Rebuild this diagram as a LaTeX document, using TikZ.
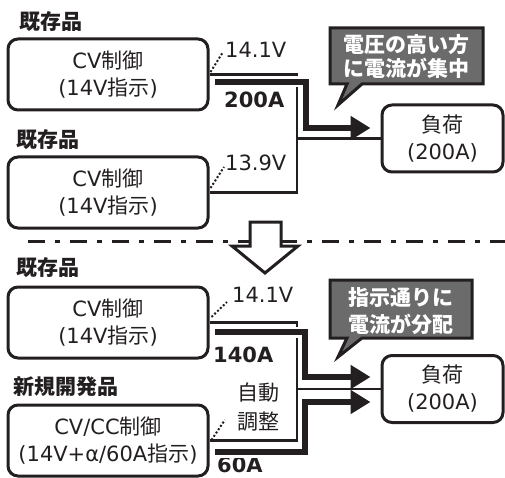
\documentclass[tikz,border=0pt]{standalone}
\usepackage{fontspec}
\setmainfont{DejaVu Sans}
\newfontfamily\jp{Noto Sans CJK JP}
\usetikzlibrary{arrows.meta}
\newcommand\J[1]{{\jp #1}}
\definecolor{callgray}{HTML}{6B6B6B}
\definecolor{ink}{HTML}{231F20}
\begin{document}
\begin{tikzpicture}[x=1pt,y=-1pt,
  box/.style={draw=ink, line width=3pt, rounded corners=10pt, minimum width=200pt, minimum height=71pt, inner sep=0pt, align=center, font=\fontsize{21}{27}\selectfont, text=ink},
  loadbox/.style={box, minimum width=121pt, minimum height=67pt},
  lbl/.style={font=\fontsize{21}{25}\selectfont, text=ink, inner sep=0pt},
  blbl/.style={font=\fontsize{21}{25}\selectfont\bfseries, text=ink, inner sep=0pt},
  wire/.style={draw=ink, line width=2.5pt},
  flow/.style={draw=ink, line width=6.5pt, -{Triangle[length=20pt,width=23pt]}},
  halo/.style={draw=white, line width=11pt},
  dots/.style={draw=ink, line width=2pt, dash pattern=on 2pt off 2pt},
  callout/.style={draw=ink, fill=callgray, line width=3pt, line join=miter},
  ctext/.style={text=white, inner sep=0pt, align=center}
]
\useasboundingbox (0,0) rectangle (505,478);

% ---------- top half ----------
\node[blbl, anchor=west] (h1) at (19,22) {\J{既存品}};
\node[box] (box1) at (108,74.5) {CV\J{制御}\\(14V\J{指示})};
\node[blbl, anchor=west] (h2) at (16,140) {\J{既存品}};
\node[box] (box2) at (108,192.5) {CV\J{制御}\\(14V\J{指示})};
\node[loadbox] (load1) at (442.5,138.5) {\J{負荷}\\(200A)};

\node[lbl, anchor=west] (v1) at (225,50) {14.1V};
\node[lbl, anchor=west] (v2) at (225,163) {13.9V};
\node[blbl, anchor=west] (a1) at (224,100) {200A};

\draw[dots] ([xshift=1pt,yshift=2.5pt]box1.east) -- ([xshift=-2pt,yshift=-2pt]v1.west);
\draw[dots] ([xshift=1pt,yshift=4.5pt]box2.east) -- ([xshift=-1pt,yshift=-4pt]v2.west);

\coordinate (busT) at (297,138.5);
\draw[wire] (box1.east) -| (busT) |- (box2.east);
\draw[wire] (busT) -- (load1.west);

\coordinate (fA) at ([xshift=5pt,yshift=-7.5pt]box1.east);
\coordinate (fK) at (306,105);
\coordinate (fB) at ([xshift=-10pt,yshift=10.5pt]load1.west);
\draw[halo, shorten >=25pt] (fA) -| (fK) |- (fB);
\draw[flow] (fA) -| (fK) |- (fB);

\draw[callout] (330,28) -- (483,28) -- (483,84) -- (362,84) -- (338,105) -- (347,84) -- (330,84) -- cycle;
\node[ctext, font=\fontsize{21}{24}\selectfont\bfseries] (c1) at (406.5,56.5) {\J{電圧の高い方}\\\J{に電流が集中}};

% ---------- separator ----------
\draw[ink, line width=3pt, dash pattern=on 17pt off 10pt on 5pt off 10pt] (28,241) -- (505,241);
\draw[ink, line width=3pt, fill=white, line join=miter]
  (250,222) -- (250,246) -- (232,246) -- (265,273) -- (298,246) -- (281,246) -- (281,222) -- cycle;

% ---------- bottom half ----------
\node[blbl, anchor=west] (h3) at (16,268) {\J{既存品}};
\node[box] (box3) at (108,322.5) {CV\J{制御}\\(14V\J{指示})};
\node[blbl, anchor=west] (h4) at (13,387) {\J{新規開発品}};
\node[box] (box4) at (108,440.5) {CV/CC\J{制御}\\(14V+α/60A\J{指示})};
\node[loadbox] (load2) at (442.5,389) {\J{負荷}\\(200A)};

\node[lbl, anchor=west] (v3) at (232,295) {14.1V};
\node[blbl, anchor=west] (a2) at (213,355) {140A};
\node[lbl, align=center, font=\fontsize{21}{29}\selectfont] (auto) at (258,407.5) {\J{自動}\\\J{調整}};
\node[blbl, anchor=west] (a3) at (217,465) {60A};

\draw[dots] ([xshift=2pt,yshift=5.5pt]box3.east) -- ([xshift=-5pt,yshift=-7pt]v3.west);
\draw[dots] ([xshift=2pt,yshift=0.5pt]box4.east) -- ([xshift=-12pt,yshift=-12.5pt]auto.west);

\coordinate (busB) at (297,389);
\draw[wire] (box3.east) -| (busB) |- (box4.east);
\draw[wire] (busB) -- (load2.west);

\coordinate (gA) at ([xshift=5pt,yshift=-9.5pt]box3.east);
\coordinate (gK) at (305,355);
\coordinate (gB) at ([xshift=-10pt,yshift=12pt]load2.west);
\draw[halo, shorten >=25pt] (gA) -| (gK) |- (gB);
\draw[flow] (gA) -| (gK) |- (gB);

\coordinate (hA) at ([xshift=5pt,yshift=-11.5pt]box4.east);
\coordinate (hK) at (305,427);
\coordinate (hB) at ([xshift=-10pt,yshift=-13pt]load2.west);
\draw[halo, shorten >=25pt] (hA) -| (hK) |- (hB);
\draw[flow] (hA) -| (hK) |- (hB);

\draw[callout] (330,280) -- (472,280) -- (472,338) -- (362,338) -- (338,357) -- (347,338) -- (330,338) -- cycle;
\node[ctext, font=\fontsize{21}{27}\selectfont\bfseries] (c2) at (401,311.5) {\J{指示通りに}\\\J{電流が分配}};
\end{tikzpicture}
\end{document}
